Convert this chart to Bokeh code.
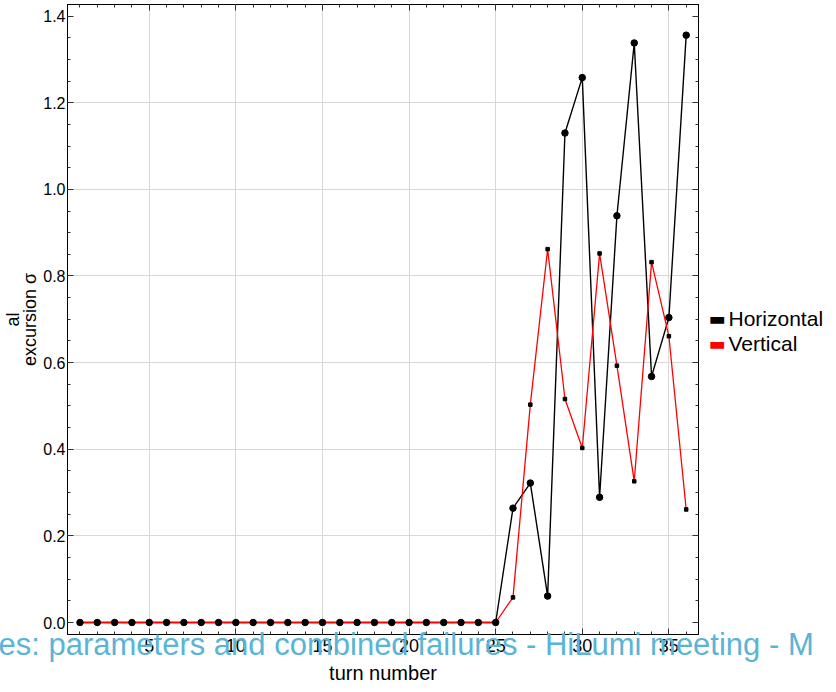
from bokeh.plotting import figure
from bokeh.models import (Range1d, LinearAxis, FixedTicker, SingleIntervalTicker,
                          Title, NumeralTickFormatter, CustomJSTickFormatter)
from bokeh.embed import file_html
from bokeh.resources import INLINE

# ---- data -------------------------------------------------------------
turns = [1, 2, 3, 4, 5, 6, 7, 8, 9, 10, 11, 12, 13, 14, 15, 16, 17, 18,
         19, 20, 21, 22, 23, 24, 25, 26, 27, 28, 29, 30, 31, 32, 33, 34, 35, 36]
horizontal = [0.0, 0.0, 0.0, 0.0, 0.0, 0.0, 0.0, 0.0, 0.0, 0.0, 0.0, 0.0,
              0.0, 0.0, 0.0, 0.0, 0.0, 0.0, 0.0, 0.0, 0.0, 0.0, 0.0, 0.0, 0.0,
              0.264, 0.322, 0.061, 1.130, 1.258, 0.289, 0.939, 1.338, 0.568, 0.704, 1.356]
vertical = [0.0, 0.0, 0.0, 0.0, 0.0, 0.0, 0.0, 0.0, 0.0, 0.0, 0.0, 0.0,
            0.0, 0.0, 0.0, 0.0, 0.0, 0.0, 0.0, 0.0, 0.0, 0.0, 0.0, 0.0, 0.0,
            0.058, 0.503, 0.862, 0.516, 0.403, 0.852, 0.593, 0.326, 0.832, 0.661, 0.261]
series_names = ["Horizontal", "Vertical"]
series_colors = ["black", "red"]
x_label = "turn number"
y_label = "al\nexcursion σ"
footer_parts = ["es: parameters and combined", "failures - HiLumi meeting - M"]
grid_y = [0.2, 0.4, 0.6, 0.8, 1.0, 1.2]

FONT = "Liberation Sans"

p = figure(frame_width=631, frame_height=630, output_backend="svg",
           toolbar_location=None,
           x_range=Range1d(0.28, 36.71), y_range=Range1d(-0.0277, 1.4268),
           min_border_left=64, min_border_right=138, min_border_top=4,
           min_border_bottom=50)
p.background_fill_color = "white"
p.border_fill_color = "white"
p.outline_line_color = "black"
p.outline_line_width = 1

xt = SingleIntervalTicker(interval=5, num_minor_ticks=5)
yt = SingleIntervalTicker(interval=0.2, num_minor_ticks=4)

xa = p.xaxis[0]
ya = p.yaxis[0]
xa.ticker = xt
ya.ticker = yt
ya.formatter = NumeralTickFormatter(format="0.0")

blank = CustomJSTickFormatter(code="return ''")
top = LinearAxis(ticker=xt, formatter=blank)
right = LinearAxis(ticker=yt, formatter=blank)
p.add_layout(top, "above")
p.add_layout(right, "right")

for ax in (xa, ya, top, right):
    ax.major_tick_in = 6
    ax.major_tick_out = 0
    ax.minor_tick_in = 3
    ax.minor_tick_out = 0
    ax.axis_line_color = "black"
    ax.major_tick_line_color = "#333333"
    ax.minor_tick_line_color = "#333333"
    ax.major_label_text_font = FONT
    ax.major_label_text_font_size = "18px"
    ax.major_label_text_color = "black"
    ax.major_label_standoff = 4

for ax in (top, right):
    ax.major_label_standoff = 0

ya.major_label_text_font_size = "16px"
ya.major_label_standoff = 2
ya.axis_label = y_label
ya.axis_label_text_font = FONT
ya.axis_label_text_font_size = "18px"
ya.axis_label_text_font_style = "normal"
ya.axis_label_text_color = "black"
ya.axis_label_text_line_height = 0.85
ya.axis_label_standoff = 0

xa.axis_label = x_label
xa.axis_label_text_font = FONT
xa.axis_label_text_font_size = "20px"
xa.axis_label_text_font_style = "normal"
xa.axis_label_text_color = "black"
xa.axis_label_standoff = 7

p.xgrid.ticker = xt
p.ygrid.ticker = FixedTicker(ticks=grid_y)
p.xgrid.grid_line_color = "#d8d8d8"
p.ygrid.grid_line_color = "#d8d8d8"

# ---- data glyphs -------------------------------------------------------
p.line(turns, horizontal, line_color=series_colors[0], line_width=1.4)
p.line(turns, vertical, line_color=series_colors[1], line_width=1.3)
p.scatter(turns, horizontal, marker="circle", size=6.5, color="black")
p.scatter(turns, vertical, marker="square", size=3.5, color="black")

# ---- zero-height titles below the frame, shifted into place ------------
extras = []
footer_offsets = [-69, 350]
for txt, off in zip(footer_parts, footer_offsets):
    extras.append(Title(text=txt, align="left", vertical_align="bottom",
                        offset=off, standoff=-55, text_font=FONT,
                        text_font_size="31px", text_font_style="normal",
                        text_color="#5ab4d6"))

# legend (outside the frame, to the right)
legend_standoffs = [-656, -606]
marker_standoffs = [-654, -604]
for name, col, s_txt, s_mk in zip(series_names, series_colors,
                                   legend_standoffs, marker_standoffs):
    extras.append(Title(text="▬", align="left", vertical_align="top",
                        offset=641, standoff=s_mk, text_font="DejaVu Sans",
                        text_font_size="18px", text_font_style="normal",
                        text_color=col))
    extras.append(Title(text=name, align="left", vertical_align="top",
                        offset=661, standoff=s_txt, text_font=FONT,
                        text_font_size="21px", text_font_style="normal",
                        text_color="black"))

p.below = extras + [xa]

open("out.html", "w").write(file_html(p, INLINE))
